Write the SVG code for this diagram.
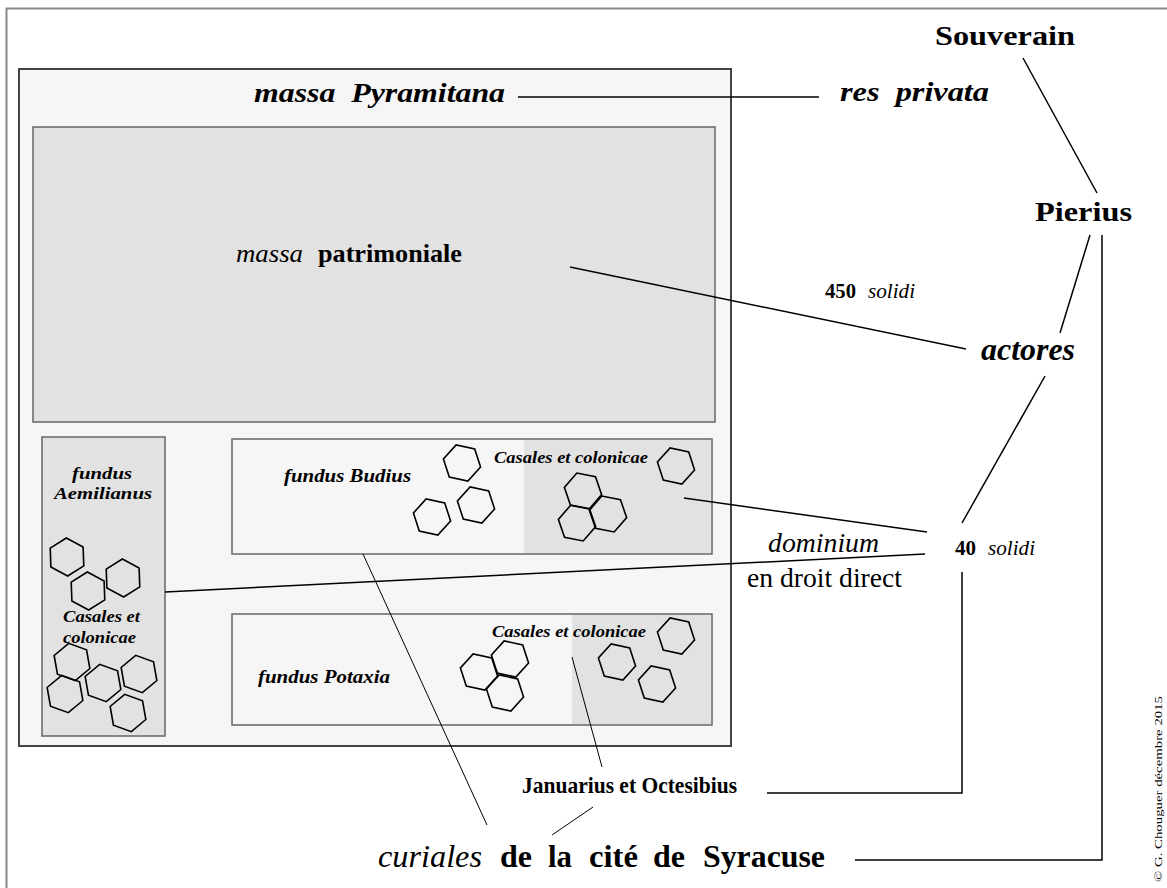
<svg xmlns="http://www.w3.org/2000/svg" xmlns:xlink="http://www.w3.org/1999/xlink" width="1167" height="888" viewBox="0 0 1167 888" font-family="Liberation Serif, serif">
<style>
text{font-family:'Liberation Serif',serif;fill:#000}
.b{font-weight:bold}
.i{font-style:italic}
.bi{font-weight:bold;font-style:italic}
.ln{stroke:#000;stroke-width:1.5;fill:none}
.thin{stroke:#000;stroke-width:1;fill:none}
.hx{stroke:#000;stroke-width:1.6;fill:none}
</style>
<defs>
<polygon id="hex" points="19,0 9.5,16.45 -9.5,16.45 -19,0 -9.5,-16.45 9.5,-16.45"/>
</defs>
<rect x="0" y="0" width="1167" height="888" fill="#fff"/>
<rect x="6.5" y="8.5" width="1170" height="890" fill="none" stroke="#888" stroke-width="2"/>

<g id="massa-pyramitana">
<rect x="19" y="69" width="712" height="677" fill="#f6f6f6" stroke="#444" stroke-width="2"/>
<text x="254" y="102" class="bi" font-size="27" textLength="251" lengthAdjust="spacingAndGlyphs" xml:space="preserve">massa  Pyramitana</text>
</g>

<g id="massa-patrimoniale">
<rect x="33" y="127" width="682" height="295" fill="#e2e2e2" stroke="#666" stroke-width="1.5"/>
<text x="236" y="262" class="i" font-size="25" textLength="67" lengthAdjust="spacingAndGlyphs">massa</text>
<text x="318" y="262" class="b" font-size="25" textLength="144" lengthAdjust="spacingAndGlyphs">patrimoniale</text>
</g>

<g id="fundus-aemilianus">
<rect x="42" y="437" width="123" height="299" fill="#e2e2e2" stroke="#666" stroke-width="1.5"/>
<text x="72" y="479" class="bi" font-size="17" textLength="60" lengthAdjust="spacingAndGlyphs">fundus</text>
<text x="54" y="499" class="bi" font-size="17" textLength="98" lengthAdjust="spacingAndGlyphs">Aemilianus</text>
<text x="63" y="622" class="bi" font-size="17" textLength="77" lengthAdjust="spacingAndGlyphs">Casales et</text>
<text x="63" y="643" class="bi" font-size="17" textLength="73" lengthAdjust="spacingAndGlyphs">colonicae</text>
<g class="hx">
<use xlink:href="#hex" transform="translate(67,557) rotate(28)"/>
<use xlink:href="#hex" transform="translate(88,591) rotate(28)"/>
<use xlink:href="#hex" transform="translate(123,578) rotate(28)"/>
<use xlink:href="#hex" transform="translate(72,662) rotate(20)"/>
<use xlink:href="#hex" transform="translate(65,694) rotate(20)"/>
<use xlink:href="#hex" transform="translate(103,683) rotate(20)"/>
<use xlink:href="#hex" transform="translate(139,674) rotate(20)"/>
<use xlink:href="#hex" transform="translate(128,713) rotate(20)"/>
</g>
</g>

<g id="fundus-budius">
<rect x="232" y="439" width="480" height="115" fill="#f6f6f6" stroke="#666" stroke-width="1.5"/>
<rect x="524" y="440" width="187" height="113" fill="#e2e2e2"/>
<text x="284" y="482" class="bi" font-size="19" textLength="127" lengthAdjust="spacingAndGlyphs">fundus Budius</text>
<text x="494" y="463" class="bi" font-size="17" textLength="154" lengthAdjust="spacingAndGlyphs">Casales et colonicae</text>
<g class="hx">
<use xlink:href="#hex" transform="translate(462,463) rotate(12)"/>
<use xlink:href="#hex" transform="translate(432,517) rotate(12)"/>
<use xlink:href="#hex" transform="translate(476,505) rotate(12)"/>
<use xlink:href="#hex" transform="translate(676,466) rotate(12)"/>
<use xlink:href="#hex" transform="translate(583,491) rotate(11)"/>
<use xlink:href="#hex" transform="translate(577,523) rotate(11)"/>
<use xlink:href="#hex" transform="translate(608,514) rotate(11)"/>
</g>
</g>

<g id="fundus-potaxia">
<rect x="232" y="614" width="480" height="111" fill="#f6f6f6" stroke="#666" stroke-width="1.5"/>
<rect x="572" y="615" width="139" height="109" fill="#e2e2e2"/>
<text x="258" y="683" class="bi" font-size="19" textLength="132" lengthAdjust="spacingAndGlyphs">fundus Potaxia</text>
<text x="492" y="637" class="bi" font-size="17" textLength="154" lengthAdjust="spacingAndGlyphs">Casales et colonicae</text>
<g class="hx">
<use xlink:href="#hex" transform="translate(479,672) rotate(12)"/>
<use xlink:href="#hex" transform="translate(510,659) rotate(12)"/>
<use xlink:href="#hex" transform="translate(505,693) rotate(12)"/>
<use xlink:href="#hex" transform="translate(676,636) rotate(12)"/>
<use xlink:href="#hex" transform="translate(617,662) rotate(12)"/>
<use xlink:href="#hex" transform="translate(657,684) rotate(12)"/>
</g>
</g>

<g id="res-privata">
<text x="840" y="101" class="bi" font-size="27" textLength="149" lengthAdjust="spacingAndGlyphs" xml:space="preserve">res  privata</text>
</g>
<g id="souverain">
<text x="935" y="45" class="b" font-size="27" textLength="140" lengthAdjust="spacingAndGlyphs">Souverain</text>
</g>
<g id="pierius">
<text x="1035" y="221" class="b" font-size="27" textLength="97" lengthAdjust="spacingAndGlyphs">Pierius</text>
</g>
<g id="solidi-450">
<text x="825" y="298" class="b" font-size="20" textLength="31" lengthAdjust="spacingAndGlyphs">450</text>
<text x="868" y="298" class="i" font-size="20" textLength="47" lengthAdjust="spacingAndGlyphs">solidi</text>
</g>
<g id="actores">
<text x="981" y="360" class="bi" font-size="32" textLength="94" lengthAdjust="spacingAndGlyphs">actores</text>
</g>
<g id="solidi-40">
<text x="955" y="555" class="b" font-size="20" textLength="21" lengthAdjust="spacingAndGlyphs">40</text>
<text x="988" y="555" class="i" font-size="20" textLength="47" lengthAdjust="spacingAndGlyphs">solidi</text>
</g>
<g id="dominium">
<text x="768" y="552" class="i" font-size="28" textLength="111" lengthAdjust="spacingAndGlyphs">dominium</text>
<text x="747" y="587" font-size="28" textLength="155" lengthAdjust="spacingAndGlyphs">en droit direct</text>
</g>
<g id="januarius">
<text x="522" y="793" class="b" font-size="23" textLength="215" lengthAdjust="spacingAndGlyphs">Januarius et Octesibius</text>
</g>
<g id="curiales">
<text y="867" font-size="32"><tspan x="378" class="i" textLength="104" lengthAdjust="spacingAndGlyphs">curiales</tspan><tspan x="500" class="b" textLength="32" lengthAdjust="spacingAndGlyphs">de</tspan><tspan x="548" class="b" textLength="24" lengthAdjust="spacingAndGlyphs">la</tspan><tspan x="589" class="b" textLength="49" lengthAdjust="spacingAndGlyphs">cité</tspan><tspan x="653" class="b" textLength="32" lengthAdjust="spacingAndGlyphs">de</tspan><tspan x="703" class="b" textLength="122" lengthAdjust="spacingAndGlyphs">Syracuse</tspan></text>
</g>
<g id="copyright">
<text transform="translate(1162,882) rotate(-90)" font-size="11" textLength="186" lengthAdjust="spacingAndGlyphs">© G. Chouguer décembre 2015</text>
</g>

<g id="connectors">
<line class="ln" x1="518" y1="97" x2="819" y2="97"/>
<line class="ln" x1="1023" y1="58" x2="1097" y2="193"/>
<line class="ln" x1="1090" y1="235" x2="1060" y2="333"/>
<polyline class="ln" points="1102,235 1102,860 855,860"/>
<line class="ln" x1="570" y1="267" x2="966" y2="349"/>
<line class="ln" x1="1045" y1="376" x2="962" y2="523"/>
<line class="ln" x1="684" y1="498" x2="927" y2="532"/>
<line class="ln" x1="165" y1="592" x2="925" y2="554"/>
<polyline class="ln" points="962,572 962,793 767,793"/>
<line class="thin" x1="363" y1="554" x2="487" y2="825"/>
<line class="thin" x1="572" y1="657" x2="602" y2="767"/>
<line class="thin" x1="593" y1="807" x2="552" y2="835"/>
</g>
</svg>
